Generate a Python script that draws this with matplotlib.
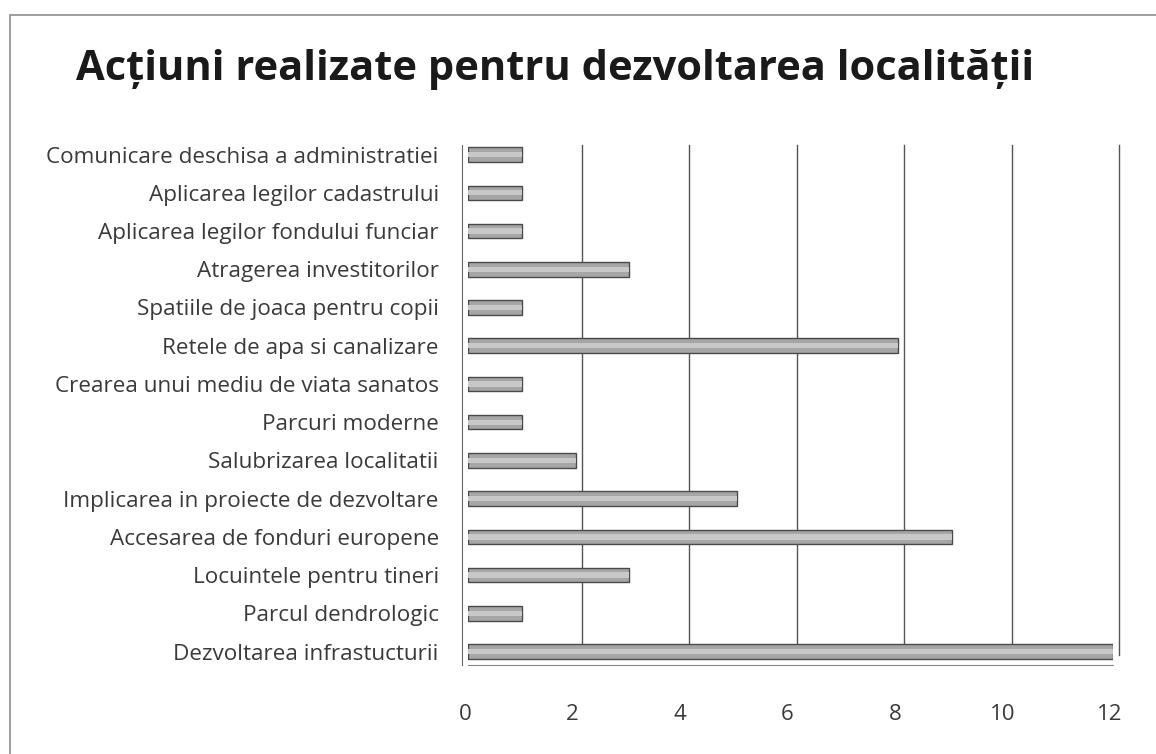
import matplotlib
matplotlib.use("Agg")
import matplotlib.pyplot as plt
import matplotlib.transforms as mtransforms
from matplotlib.patches import Rectangle

# ── Data ──────────────────────────────────────────────────────────────────────
categories = [
    "Dezvoltarea infrastucturii",
    "Parcul dendrologic",
    "Locuintele pentru tineri",
    "Accesarea de fonduri europene",
    "Implicarea in proiecte de dezvoltare",
    "Salubrizarea localitatii",
    "Parcuri moderne",
    "Crearea unui mediu de viata sanatos",
    "Retele de apa si canalizare",
    "Spatiile de joaca pentru copii",
    "Atragerea investitorilor",
    "Aplicarea legilor fondului funciar",
    "Aplicarea legilor cadastrului",
    "Comunicare deschisa a administratiei",
]
values = [12, 1, 3, 9, 5, 2, 1, 1, 8, 1, 3, 1, 1, 1]
xticks = [0, 2, 4, 6, 8, 10, 12]

TITLE = "Acțiuni realizate pentru dezvoltarea localității"
plt.rcParams["font.family"] = ["Open Sans", "DejaVu Sans"]

# ── Figure ────────────────────────────────────────────────────────────────────
W, H = 1156, 754
fig = plt.figure(figsize=(W / 100, H / 100), dpi=100)
fig.patch.set_facecolor("white")

# outer chart frame
fig.patches.append(Rectangle((10 / W, -0.02), 1.2, (H - 15) / H + 0.02,
                             transform=fig.transFigure, fill=False,
                             edgecolor="#8c8c8c", lw=1.2))

fig.text(555 / W, 1 - 69 / H, TITLE, ha="center", va="center",
         fontsize=30, fontweight="bold", color="#1a1a1a")

ax = fig.add_axes([468 / W, 89 / H, 645 / W, 520 / H])
y = list(range(len(categories)))

# bars: dark outline + lighter core for a rounded look
ax.barh(y, values, height=0.38, color="#a6a6a6", edgecolor="#4a4a4a",
        linewidth=1.0, zorder=3)
ax.barh(y, values, height=0.14, color="#c8c8c8", edgecolor="none",
        linewidth=0, zorder=4)

ax.set_xlim(0, 12)
ax.set_ylim(-0.35, 13.25)
ax.set_yticks(y, categories)
ax.set_xticks(xticks, [str(t) for t in xticks])
ax.tick_params(axis="y", length=0, pad=17, labelsize=16.2, labelcolor="#3a3a3a")
ax.tick_params(axis="x", length=0, pad=28, labelsize=16, labelcolor="#3a3a3a")

# shift x tick labels a bit left (3D perspective offset)
shift = mtransforms.ScaledTranslation(-3 / 100, 0, fig.dpi_scale_trans)
for lbl in ax.get_xticklabels():
    lbl.set_transform(lbl.get_transform() + shift)

# back-wall gridlines, slightly offset to the right
gshift = mtransforms.ScaledTranslation(6 / 100, 0, fig.dpi_scale_trans)
for t in xticks[1:]:
    ax.plot([t, t], [-0.1, 13.25], color="#555555", lw=1.0, zorder=1,
            transform=ax.transData + gshift, clip_on=False)

for s in ["top", "right"]:
    ax.spines[s].set_visible(False)
ax.spines["left"].set_color("#666666")
ax.spines["bottom"].set_color("#888888")
ax.spines["left"].set_position(("outward", 4))

fig.savefig("out.png", dpi=100, facecolor="white")
